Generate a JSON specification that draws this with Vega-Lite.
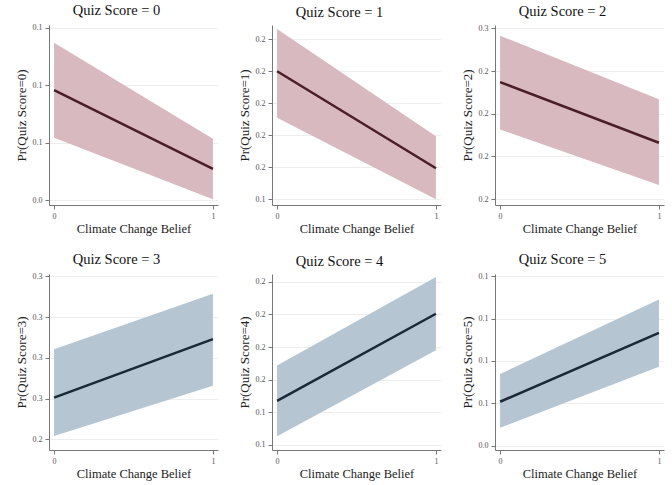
{
  "$schema": "https://vega.github.io/schema/vega-lite/v6.json",
  "background": "white",
  "padding": {"left": 15, "top": 3, "right": 2, "bottom": 2},
  "config": {
    "font": "Liberation Serif",
    "view": {"stroke": null},
    "title": {"font": "Liberation Serif", "fontSize": 14.5, "fontWeight": "normal", "color": "#111", "offset": 5, "frame": "bounds", "anchor": "middle"},
    "axis": {
      "labelFont": "Liberation Serif", "labelFontSize": 8, "labelColor": "#555",
      "titleFont": "Liberation Serif", "titleFontWeight": "normal", "titleColor": "#222",
      "domainColor": "#777", "tickColor": "#777", "tickSize": 4, "labelPadding": 3
    },
    "axisX": {"grid": false, "titlePadding": 2, "titleFontSize": 12.5, "format": "d"},
    "axisY": {"grid": true, "gridColor": "#eeeeee", "titlePadding": 4, "titleFontSize": 13}
  },
  "spacing": 16,
  "vconcat": [
    {
      "spacing": 20,
      "hconcat": [
        {
          "width": 169, "height": 180,
          "title": "Quiz Score = 0",
          "data": {"values": [
            {"belief": 0, "lower": 0.0617, "mean": 0.0783, "upper": 0.0948},
            {"belief": 1, "lower": 0.0403, "mean": 0.0509, "upper": 0.0614}
          ]},
          "encoding": {"x": {"field": "belief", "type": "quantitative", "scale": {"domain": [-0.032, 1.032], "nice": false}, "axis": {"values": [0, 1], "format": "d", "title": "Climate Change Belief"}}},
          "layer": [
            {"mark": {"type": "area", "color": "#d9b9c0", "opacity": 1},
             "encoding": {"y": {"field": "lower", "type": "quantitative", "scale": {"domain": [0.0383, 0.101], "nice": false, "zero": false}, "axis": {"values": [0.04, 0.06, 0.08, 0.10], "tickCount": 20, "labelOverlap": false, "format": ".1f", "title": "Pr(Quiz Score=0)"}}, "y2": {"field": "upper"}}},
            {"mark": {"type": "line", "color": "#4a1e27", "strokeWidth": 2.5},
             "encoding": {"y": {"field": "mean", "type": "quantitative"}}}
          ]
        },
        {
          "width": 169, "height": 180,
          "title": "Quiz Score = 1",
          "data": {"values": [
            {"belief": 0, "lower": 0.1909, "mean": 0.2200, "upper": 0.2464},
            {"belief": 1, "lower": 0.1400, "mean": 0.1594, "upper": 0.1794}
          ]},
          "encoding": {"x": {"field": "belief", "type": "quantitative", "scale": {"domain": [-0.032, 1.032], "nice": false}, "axis": {"values": [0, 1], "format": "d", "title": "Climate Change Belief"}}},
          "layer": [
            {"mark": {"type": "area", "color": "#d9b9c0", "opacity": 1},
             "encoding": {"y": {"field": "lower", "type": "quantitative", "scale": {"domain": [0.1364, 0.2489], "nice": false, "zero": false}, "axis": {"values": [0.14, 0.16, 0.18, 0.20, 0.22, 0.24], "tickCount": 20, "labelOverlap": false, "format": ".1f", "title": "Pr(Quiz Score=1)"}}, "y2": {"field": "upper"}}},
            {"mark": {"type": "line", "color": "#4a1e27", "strokeWidth": 2.5},
             "encoding": {"y": {"field": "mean", "type": "quantitative"}}}
          ]
        },
        {
          "width": 169, "height": 180,
          "title": "Quiz Score = 2",
          "data": {"values": [
            {"belief": 0, "lower": 0.2263, "mean": 0.2374, "upper": 0.2483},
            {"belief": 1, "lower": 0.2133, "mean": 0.2232, "upper": 0.2334}
          ]},
          "encoding": {"x": {"field": "belief", "type": "quantitative", "scale": {"domain": [-0.032, 1.032], "nice": false}, "axis": {"values": [0, 1], "format": "d", "title": "Climate Change Belief"}}},
          "layer": [
            {"mark": {"type": "area", "color": "#d9b9c0", "opacity": 1},
             "encoding": {"y": {"field": "lower", "type": "quantitative", "scale": {"domain": [0.2086, 0.2508], "nice": false, "zero": false}, "axis": {"values": [0.21, 0.22, 0.23, 0.24, 0.25], "tickCount": 20, "labelOverlap": false, "format": ".1f", "title": "Pr(Quiz Score=2)"}}, "y2": {"field": "upper"}}},
            {"mark": {"type": "line", "color": "#4a1e27", "strokeWidth": 2.5},
             "encoding": {"y": {"field": "mean", "type": "quantitative"}}}
          ]
        }
      ]
    },
    {
      "spacing": 20,
      "hconcat": [
        {
          "width": 169, "height": 176,
          "title": "Quiz Score = 3",
          "data": {"values": [
            {"belief": 0, "lower": 0.2417, "mean": 0.2605, "upper": 0.2842},
            {"belief": 1, "lower": 0.2663, "mean": 0.2892, "upper": 0.3114}
          ]},
          "encoding": {"x": {"field": "belief", "type": "quantitative", "scale": {"domain": [-0.032, 1.032], "nice": false}, "axis": {"values": [0, 1], "format": "d", "title": "Climate Change Belief"}}},
          "layer": [
            {"mark": {"type": "area", "color": "#b5c5d2", "opacity": 1},
             "encoding": {"y": {"field": "lower", "type": "quantitative", "scale": {"domain": [0.2348, 0.3211], "nice": false, "zero": false}, "axis": {"values": [0.24, 0.26, 0.28, 0.30, 0.32], "tickCount": 20, "labelOverlap": false, "format": ".1f", "title": "Pr(Quiz Score=3)"}}, "y2": {"field": "upper"}}},
            {"mark": {"type": "line", "color": "#1a2838", "strokeWidth": 2.5},
             "encoding": {"y": {"field": "mean", "type": "quantitative"}}}
          ]
        },
        {
          "width": 169, "height": 176,
          "title": "Quiz Score = 4",
          "data": {"values": [
            {"belief": 0, "lower": 0.1252, "mean": 0.1470, "upper": 0.1686},
            {"belief": 1, "lower": 0.1780, "mean": 0.2004, "upper": 0.2230}
          ]},
          "encoding": {"x": {"field": "belief", "type": "quantitative", "scale": {"domain": [-0.032, 1.032], "nice": false}, "axis": {"values": [0, 1], "format": "d", "title": "Climate Change Belief"}}},
          "layer": [
            {"mark": {"type": "area", "color": "#b5c5d2", "opacity": 1},
             "encoding": {"y": {"field": "lower", "type": "quantitative", "scale": {"domain": [0.1168, 0.2248], "nice": false, "zero": false}, "axis": {"values": [0.12, 0.14, 0.16, 0.18, 0.20, 0.22], "tickCount": 20, "labelOverlap": false, "format": ".1f", "title": "Pr(Quiz Score=4)"}}, "y2": {"field": "upper"}}},
            {"mark": {"type": "line", "color": "#1a2838", "strokeWidth": 2.5},
             "encoding": {"y": {"field": "mean", "type": "quantitative"}}}
          ]
        },
        {
          "width": 169, "height": 176,
          "title": "Quiz Score = 5",
          "data": {"values": [
            {"belief": 0, "lower": 0.0484, "mean": 0.0607, "upper": 0.0738},
            {"belief": 1, "lower": 0.0772, "mean": 0.0933, "upper": 0.1091}
          ]},
          "encoding": {"x": {"field": "belief", "type": "quantitative", "scale": {"domain": [-0.032, 1.032], "nice": false}, "axis": {"values": [0, 1], "format": "d", "title": "Climate Change Belief"}}},
          "layer": [
            {"mark": {"type": "area", "color": "#b5c5d2", "opacity": 1},
             "encoding": {"y": {"field": "lower", "type": "quantitative", "scale": {"domain": [0.0379, 0.1211], "nice": false, "zero": false}, "axis": {"values": [0.04, 0.06, 0.08, 0.10, 0.12], "tickCount": 20, "labelOverlap": false, "format": ".1f", "title": "Pr(Quiz Score=5)"}}, "y2": {"field": "upper"}}},
            {"mark": {"type": "line", "color": "#1a2838", "strokeWidth": 2.5},
             "encoding": {"y": {"field": "mean", "type": "quantitative"}}}
          ]
        }
      ]
    }
  ]
}
